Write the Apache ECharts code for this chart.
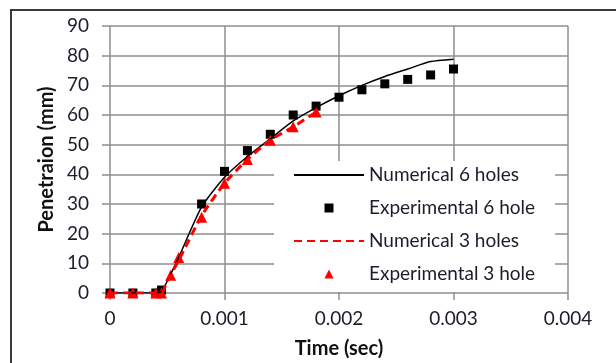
<!DOCTYPE html>
<html>
<head>
<meta charset="utf-8">
<script src="https://cdn.jsdelivr.net/npm/echarts@6/dist/echarts.min.js"></script>
<style>
  html, body { margin: 0; padding: 0; background: #fff; }
  #EChart { width: 616px; height: 363px; }
</style>
</head>
<body>
<div id="EChart"></div>
<script>
// time (sec) for each series
const numTime6 = [0, 0.0002, 0.0004, 0.00045, 0.0005, 0.0006, 0.0008, 0.001, 0.0012, 0.0014, 0.0016, 0.0018, 0.002, 0.0022, 0.0024, 0.0026, 0.0028, 0.003];
const numPen6  = [0, 0, 0, 0.5, 4, 12, 29, 39, 46, 52, 58, 62.5, 66.5, 70, 73, 75.5, 78, 78.8];

const expTime6 = [0, 0.0002, 0.0004, 0.00045, 0.0008, 0.001, 0.0012, 0.0014, 0.0016, 0.0018, 0.002, 0.0022, 0.0024, 0.0026, 0.0028, 0.003];
const expPen6  = [0, 0, 0, 1, 30, 41, 48, 53.5, 60, 63, 66, 68.5, 70.5, 72, 73.5, 75.5];

const numTime3 = [0, 0.0002, 0.0004, 0.00045, 0.0005, 0.0006, 0.0008, 0.001, 0.0012, 0.0014, 0.0016, 0.0018];
const numPen3  = [0, 0, 0, 0, 4, 11, 26, 37, 45, 51.5, 56, 61];

const expTime3 = [0, 0.0002, 0.0004, 0.00045, 0.00053, 0.0006, 0.0008, 0.001, 0.0012, 0.0014, 0.0016, 0.0018];
const expPen3  = [0, 0, 0, 0, 6, 12, 25.5, 37, 45, 51.5, 56, 61];

const xTicks = [0, 0.001, 0.002, 0.003, 0.004];
const yTicks = [0, 10, 20, 30, 40, 50, 60, 70, 80, 90];

function pairs(xs, ys) {
    return xs.map((x, i) => [x, ys[i]]);
}

const gridColor = '#8e8e8e';
const labelFont = 'Lato';

let EChart = echarts.init(document.getElementById('EChart'));

let config = {
    animation: false,
    backgroundColor: '#fff',
    grid: { left: 110, right: 48, top: 26, bottom: 70, outerBoundsMode: 'none', containLabel: false },
    graphic: [{
        type: 'rect',
        shape: { x: 11, y: 10, width: 700, height: 400 },
        style: { fill: 'none', stroke: '#3a3a3a', lineWidth: 2 },
        z: -1
    }],
    xAxis: {
        type: 'value',
        min: xTicks[0],
        max: xTicks[xTicks.length - 1],
        interval: 0.001,
        name: 'Time (sec)',
        nameLocation: 'middle',
        nameGap: 46,
        nameTextStyle: { fontFamily: labelFont, fontWeight: 'bold', fontSize: 20, color: '#111' },
        axisLine: { show: false },
        axisTick: { show: true, length: 7, lineStyle: { color: gridColor, width: 1.5 } },
        axisLabel: {
            margin: 16,
            fontFamily: labelFont, fontSize: 19, color: '#1c1c2a',
            formatter: v => v === 0 ? '0' : v.toFixed(3)
        },
        splitLine: { show: true, lineStyle: { color: gridColor, width: 1.5 } }
    },
    yAxis: {
        type: 'value',
        min: yTicks[0],
        max: yTicks[yTicks.length - 1],
        interval: 10,
        name: 'Penetraion (mm)',
        nameLocation: 'middle',
        nameGap: 52,
        nameRotate: 90,
        nameTextStyle: { fontFamily: labelFont, fontWeight: 'bold', fontSize: 20, color: '#111' },
        axisLine: { show: false },
        axisTick: { show: true, length: 8, lineStyle: { color: gridColor, width: 1.5 } },
        axisLabel: { margin: 21, fontFamily: labelFont, fontSize: 19, color: '#1c1c2a' },
        splitLine: { show: true, lineStyle: { color: gridColor, width: 1.5 } }
    },
    legend: {
        orient: 'vertical',
        left: 274,
        top: 161,
        padding: [4, 20, 8, 19],
        backgroundColor: '#fff',
        itemWidth: 70,
        itemHeight: 9,
        itemGap: 13,
        symbolKeepAspect: true,
        textStyle: { fontFamily: labelFont, fontSize: 19, color: '#1c1c2a', lineHeight: 20 },
        data: [
            { name: 'Numerical 6 holes', itemStyle: { opacity: 0 } },
            { name: 'Experimental 6 hole', icon: 'path://M0,0H1V1H0Z' },
            { name: 'Numerical 3 holes', itemStyle: { opacity: 0 } },
            { name: 'Experimental 3 hole', icon: 'path://M0.5,0L1,1H0Z' }
        ]
    },
    series: [
        {
            name: 'Numerical 6 holes',
            type: 'line',
            data: pairs(numTime6, numPen6),
            symbol: 'none',
            smooth: 0.2,
            lineStyle: { color: '#000', width: 1.5 },
            itemStyle: { color: '#000' }
        },
        {
            name: 'Experimental 6 hole',
            type: 'scatter',
            data: pairs(expTime6, expPen6),
            symbol: 'rect',
            symbolSize: 9,
            itemStyle: { color: '#000', opacity: 1 }
        },
        {
            name: 'Numerical 3 holes',
            type: 'line',
            data: pairs(numTime3, numPen3),
            symbol: 'none',
            smooth: 0.2,
            lineStyle: { color: '#ff0000', width: 3, type: [8, 5] },
            itemStyle: { color: '#ff0000' }
        },
        {
            name: 'Experimental 3 hole',
            type: 'scatter',
            data: pairs(expTime3, expPen3),
            symbol: 'triangle',
            symbolSize: 11,
            itemStyle: { color: '#ff0000', opacity: 1 }
        }
    ]
};

EChart.setOption(config);
</script>
</body>
</html>
